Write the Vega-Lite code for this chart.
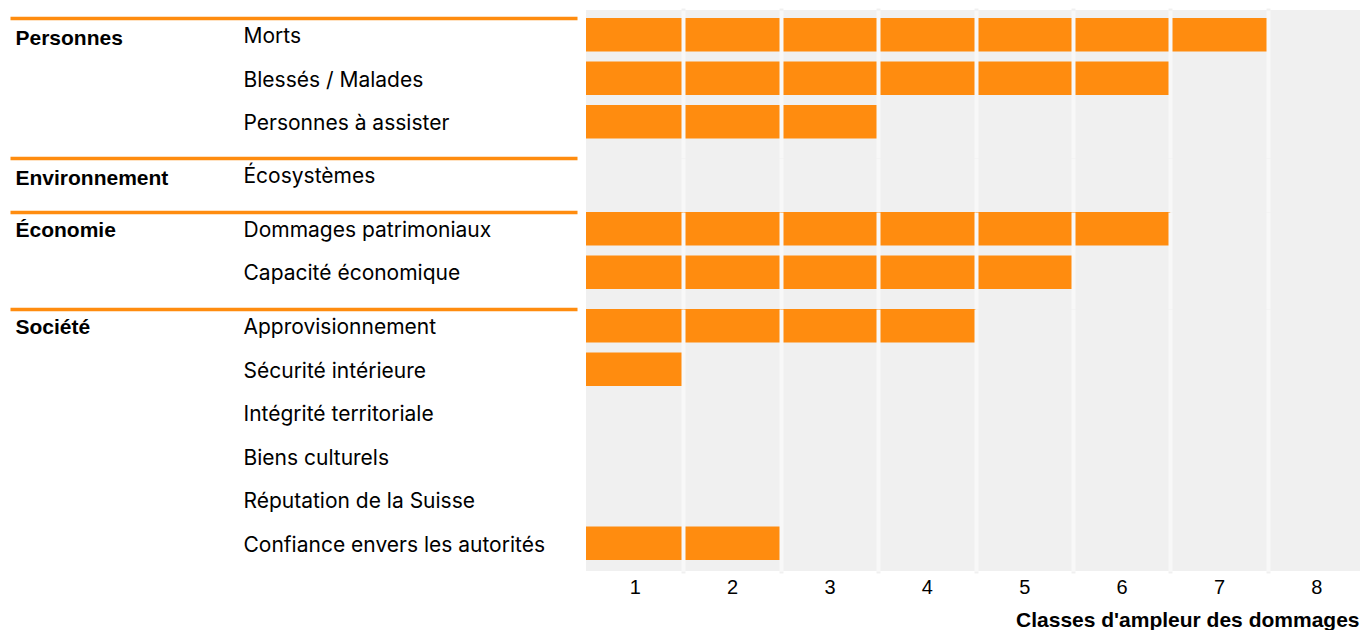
{
  "$schema": "https://vega.github.io/schema/vega-lite/v6.json",
  "padding": {"left": 8, "top": 6, "right": 0, "bottom": 0},
  "background": "white",
  "spacing": 0,
  "bounds": "flush",
  "config": {
    "font": "Liberation Sans",
    "view": {"fill": "#f0f0f0", "stroke": null},
    "axis": {"labelColor": "#000000", "titleColor": "#000000"}
  },
  "datasets": {
    "cells": [
      {"groupe": "Personnes", "item": "Morts", "classe": 1},
      {"groupe": "Personnes", "item": "Morts", "classe": 2},
      {"groupe": "Personnes", "item": "Morts", "classe": 3},
      {"groupe": "Personnes", "item": "Morts", "classe": 4},
      {"groupe": "Personnes", "item": "Morts", "classe": 5},
      {"groupe": "Personnes", "item": "Morts", "classe": 6},
      {"groupe": "Personnes", "item": "Morts", "classe": 7},
      {"groupe": "Personnes", "item": "Blessés / Malades", "classe": 1},
      {"groupe": "Personnes", "item": "Blessés / Malades", "classe": 2},
      {"groupe": "Personnes", "item": "Blessés / Malades", "classe": 3},
      {"groupe": "Personnes", "item": "Blessés / Malades", "classe": 4},
      {"groupe": "Personnes", "item": "Blessés / Malades", "classe": 5},
      {"groupe": "Personnes", "item": "Blessés / Malades", "classe": 6},
      {"groupe": "Personnes", "item": "Personnes à assister", "classe": 1},
      {"groupe": "Personnes", "item": "Personnes à assister", "classe": 2},
      {"groupe": "Personnes", "item": "Personnes à assister", "classe": 3},
      {"groupe": "Économie", "item": "Dommages patrimoniaux", "classe": 1},
      {"groupe": "Économie", "item": "Dommages patrimoniaux", "classe": 2},
      {"groupe": "Économie", "item": "Dommages patrimoniaux", "classe": 3},
      {"groupe": "Économie", "item": "Dommages patrimoniaux", "classe": 4},
      {"groupe": "Économie", "item": "Dommages patrimoniaux", "classe": 5},
      {"groupe": "Économie", "item": "Dommages patrimoniaux", "classe": 6},
      {"groupe": "Économie", "item": "Capacité économique", "classe": 1},
      {"groupe": "Économie", "item": "Capacité économique", "classe": 2},
      {"groupe": "Économie", "item": "Capacité économique", "classe": 3},
      {"groupe": "Économie", "item": "Capacité économique", "classe": 4},
      {"groupe": "Économie", "item": "Capacité économique", "classe": 5},
      {"groupe": "Société", "item": "Approvisionnement", "classe": 1},
      {"groupe": "Société", "item": "Approvisionnement", "classe": 2},
      {"groupe": "Société", "item": "Approvisionnement", "classe": 3},
      {"groupe": "Société", "item": "Approvisionnement", "classe": 4},
      {"groupe": "Société", "item": "Sécurité intérieure", "classe": 1},
      {"groupe": "Société", "item": "Confiance envers les autorités", "classe": 1},
      {"groupe": "Société", "item": "Confiance envers les autorités", "classe": 2}
    ]
  },
  "vconcat": [
    {
      "data": {"name": "cells"},
      "transform": [{"filter": "datum.groupe === 'Personnes'"}],
      "width": 779,
      "height": 148,
      "mark": {"type": "rect", "color": "#ff8c0f"},
      "encoding": {
        "x": {
          "field": "classe", "type": "ordinal",
          "scale": {"domain": [1, 2, 3, 4, 5, 6, 7, 8], "paddingInner": 0, "paddingOuter": 0},
          "axis": {
            "orient": "top", "labels": false, "title": null, "domain": false,
            "ticks": true, "tickSize": 2, "tickWidth": 4, "tickColor": "#f0f0f0", "tickBand": "extent",
            "tickOpacity": {"condition": {"test": "datum.extra || datum.value === 8", "value": 0}, "value": 1},
            "grid": true, "gridColor": "#f8f8f8", "gridWidth": 4,
            "gridOpacity": {"condition": {"test": "datum.extra || datum.value === 8", "value": 0}, "value": 1},
            "zindex": 1
          }
        },
        "y": {
          "field": "item", "type": "nominal",
          "scale": {"domain": ["Morts", "Blessés / Malades", "Personnes à assister"], "paddingInner": 0.2299, "paddingOuter": 0.3161, "align": 0.291},
          "axis": {
            "title": "Personnes", "titleAngle": 0, "titleAlign": "left", "titleBaseline": "alphabetic",
            "titleX": -562, "titleY": 34, "titleFontSize": 21, "titleFontWeight": "bold",
            "labelAlign": "left", "labelBaseline": "middle", "labelPadding": -233, "labelFontSize": 21,
            "labelFont": "Inter", "labelOffset": 18.5, "labelLimit": 0,
            "ticks": true, "tickSize": 567, "tickWidth": 3.5, "tickOffset": -16.75,
            "tickColor": {"condition": {"test": "datum.value === 'Morts'", "value": "#ff8c0f"}, "value": "transparent"},
            "offset": 9, "domain": false, "grid": false
          }
        }
      }
    },
    {
      "data": {"name": "cells"},
      "transform": [{"filter": "datum.groupe === 'Environnement'"}],
      "width": 779,
      "height": 54,
      "mark": {"type": "rect", "color": "#ff8c0f"},
      "encoding": {
        "x": {
          "field": "classe", "type": "ordinal",
          "scale": {"domain": [1, 2, 3, 4, 5, 6, 7, 8], "paddingInner": 0, "paddingOuter": 0},
          "axis": {
            "labels": false, "title": null, "domain": false, "ticks": false, "tickBand": "extent",
            "grid": true, "gridColor": "#f8f8f8", "gridWidth": 4,
            "gridOpacity": {"condition": {"test": "datum.extra || datum.value === 8", "value": 0}, "value": 1},
            "zindex": 1
          }
        },
        "y": {
          "field": "item", "type": "nominal",
          "scale": {"domain": ["Écosystèmes"], "paddingInner": 0.2299, "paddingOuter": 0.2356, "align": 0},
          "axis": {
            "title": "Environnement", "titleAngle": 0, "titleAlign": "left", "titleBaseline": "alphabetic",
            "titleX": -562, "titleY": 26, "titleFontSize": 21, "titleFontWeight": "bold",
            "labelAlign": "left", "labelBaseline": "middle", "labelPadding": -233, "labelFontSize": 21,
            "labelFont": "Inter", "labelOffset": 18.5, "labelLimit": 0,
            "ticks": true, "tickSize": 567, "tickWidth": 3.5, "tickOffset": -16.75,
            "tickColor": {"condition": {"test": "datum.value === 'Écosystèmes'", "value": "#ff8c0f"}, "value": "transparent"},
            "offset": 9, "domain": false, "grid": false
          }
        }
      }
    },
    {
      "data": {"name": "cells"},
      "transform": [{"filter": "datum.groupe === 'Économie'"}],
      "width": 779,
      "height": 97,
      "mark": {"type": "rect", "color": "#ff8c0f"},
      "encoding": {
        "x": {
          "field": "classe", "type": "ordinal",
          "scale": {"domain": [1, 2, 3, 4, 5, 6, 7, 8], "paddingInner": 0, "paddingOuter": 0},
          "axis": {
            "labels": false, "title": null, "domain": false, "ticks": false, "tickBand": "extent",
            "grid": true, "gridColor": "#f8f8f8", "gridWidth": 4,
            "gridOpacity": {"condition": {"test": "datum.extra || datum.value === 8", "value": 0}, "value": 1},
            "zindex": 1
          }
        },
        "y": {
          "field": "item", "type": "nominal",
          "scale": {"domain": ["Dommages patrimoniaux", "Capacité économique"], "paddingInner": 0.2299, "paddingOuter": 0.2299, "align": 0},
          "axis": {
            "title": "Économie", "titleAngle": 0, "titleAlign": "left", "titleBaseline": "alphabetic",
            "titleX": -562, "titleY": 24, "titleFontSize": 21, "titleFontWeight": "bold",
            "labelAlign": "left", "labelBaseline": "middle", "labelPadding": -233, "labelFontSize": 21,
            "labelFont": "Inter", "labelOffset": 18.5, "labelLimit": 0,
            "ticks": true, "tickSize": 567, "tickWidth": 3.5, "tickOffset": -16.75,
            "tickColor": {"condition": {"test": "datum.value === 'Dommages patrimoniaux'", "value": "#ff8c0f"}, "value": "transparent"},
            "offset": 9, "domain": false, "grid": false
          }
        }
      }
    },
    {
      "data": {"name": "cells"},
      "transform": [{"filter": "datum.groupe === 'Société'"}],
      "width": 779,
      "height": 262,
      "mark": {"type": "rect", "color": "#ff8c0f"},
      "encoding": {
        "x": {
          "field": "classe", "type": "ordinal",
          "scale": {"domain": [1, 2, 3, 4, 5, 6, 7, 8], "paddingInner": 0, "paddingOuter": 0},
          "axis": {
            "orient": "bottom", "labels": true, "labelAngle": 0, "labelFontSize": 20, "labelPadding": 4,
            "title": "Classes d'ampleur des dommages", "titleFontSize": 21, "titleFontWeight": "bold",
            "titleAnchor": "end", "titleAlign": "right", "titleX": 773, "titlePadding": 12,
            "domain": false,
            "ticks": true, "tickSize": 2, "tickWidth": 4, "tickColor": "#f0f0f0", "tickBand": "extent",
            "tickOpacity": {"condition": {"test": "datum.extra || datum.value === 8", "value": 0}, "value": 1},
            "grid": true, "gridColor": "#f8f8f8", "gridWidth": 4,
            "gridOpacity": {"condition": {"test": "datum.extra || datum.value === 8", "value": 0}, "value": 1},
            "zindex": 1
          }
        },
        "y": {
          "field": "item", "type": "nominal",
          "scale": {"domain": ["Approvisionnement", "Sécurité intérieure", "Intégrité territoriale", "Biens culturels", "Réputation de la Suisse", "Confiance envers les autorités"], "paddingInner": 0.2299, "paddingOuter": 0.1264, "align": 0},
          "axis": {
            "title": "Société", "titleAngle": 0, "titleAlign": "left", "titleBaseline": "alphabetic",
            "titleX": -562, "titleY": 24, "titleFontSize": 21, "titleFontWeight": "bold",
            "labelAlign": "left", "labelBaseline": "middle", "labelPadding": -233, "labelFontSize": 21,
            "labelFont": "Inter", "labelOffset": 18.5, "labelLimit": 0,
            "ticks": true, "tickSize": 567, "tickWidth": 3.5, "tickOffset": -16.75,
            "tickColor": {"condition": {"test": "datum.value === 'Approvisionnement'", "value": "#ff8c0f"}, "value": "transparent"},
            "offset": 9, "domain": false, "grid": false
          }
        }
      }
    }
  ]
}
